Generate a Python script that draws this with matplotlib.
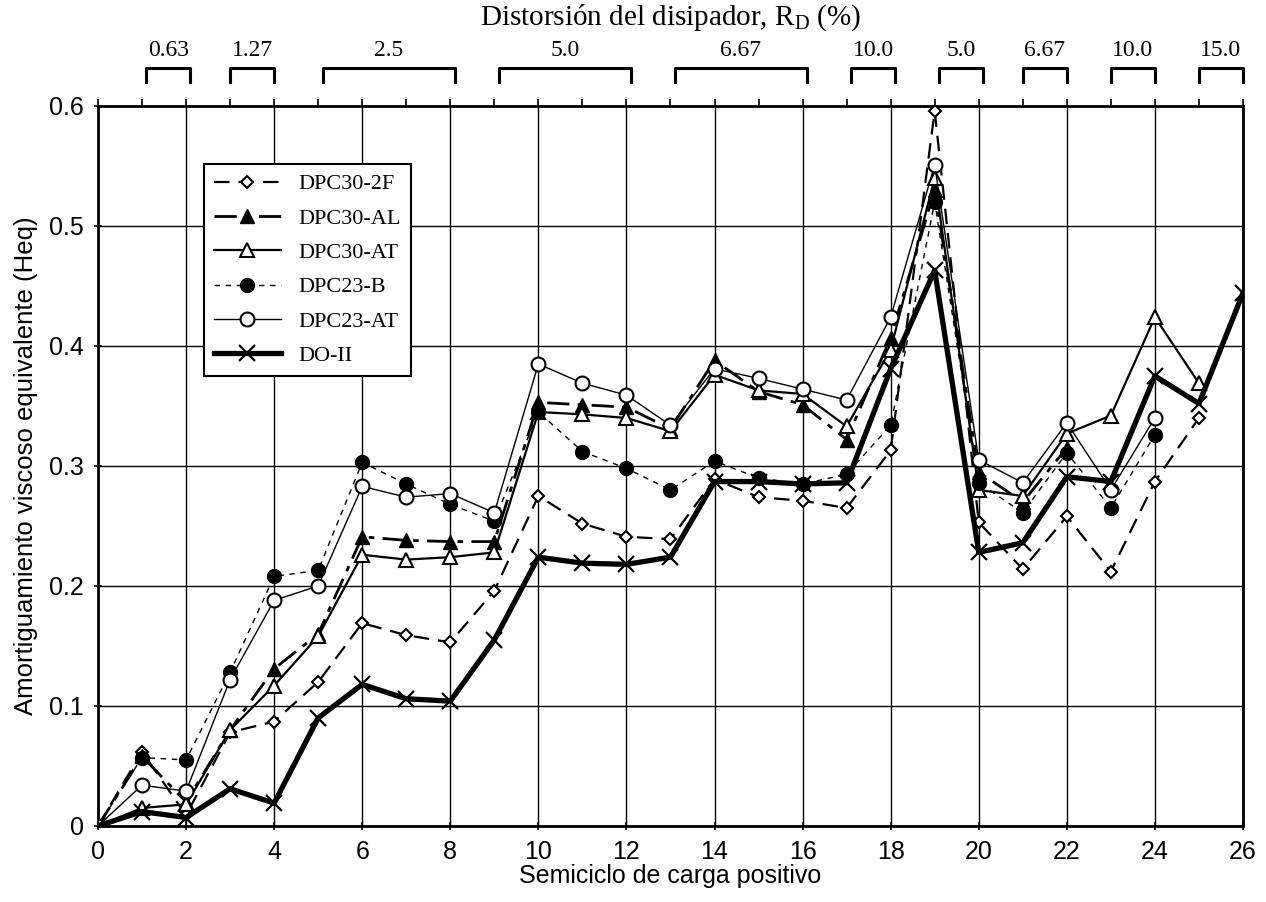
import numpy as np
import matplotlib
matplotlib.use('Agg')
import matplotlib.pyplot as plt
import matplotlib.transforms as mtransforms

# Data
x_2f = list(range(0, 26))
dpc30_2f = [0, 0.062, 0.009, 0.078, 0.087, 0.120, 0.169, 0.159, 0.153, 0.196, 0.275, 0.252, 0.241,
            0.239, 0.289, 0.274, 0.271, 0.265, 0.313, 0.596, 0.253, 0.214, 0.258, 0.212, 0.287, 0.340]

x_al = list(range(0, 23))
dpc30_al = [0, 0.058, 0.020, 0.080, 0.131, 0.160, 0.241, 0.238, 0.237, 0.237, 0.353, 0.351, 0.349,
            0.331, 0.388, 0.362, 0.351, 0.322, 0.407, 0.530, 0.295, 0.270, 0.315]

x_at = list(range(0, 26))
dpc30_at = [0, 0.015, 0.018, 0.080, 0.117, 0.158, 0.226, 0.222, 0.224, 0.228, 0.345, 0.343, 0.340,
            0.329, 0.376, 0.363, 0.360, 0.333, 0.397, 0.540, 0.280, 0.275, 0.327, 0.342, 0.424, 0.369]

x_b = list(range(0, 25))
dpc23_b = [0, 0.057, 0.055, 0.128, 0.208, 0.213, 0.303, 0.285, 0.268, 0.254, 0.345, 0.312, 0.298,
           0.280, 0.304, 0.290, 0.285, 0.293, 0.334, 0.520, 0.286, 0.261, 0.311, 0.265, 0.326]

x_at23 = list(range(0, 25))
dpc23_at = [0, 0.034, 0.029, 0.122, 0.188, 0.200, 0.283, 0.274, 0.277, 0.261, 0.385, 0.369, 0.359,
            0.334, 0.381, 0.373, 0.364, 0.355, 0.424, 0.551, 0.305, 0.286, 0.336, 0.280, 0.340]

x_do = list(range(0, 27))
do_ii = [0, 0.012, 0.007, 0.031, 0.019, 0.090, 0.118, 0.106, 0.104, 0.155, 0.224, 0.219, 0.218,
         0.224, 0.287, 0.287, 0.285, 0.286, 0.381, 0.463, 0.228, 0.236, 0.291, 0.287, 0.375, 0.352, 0.444]

# drift levels shown above the plot (label, start, end)
rd_labels = ['0.63', '1.27', '2.5', '5.0', '6.67', '10.0', '5.0', '6.67', '10.0', '15.0']
rd_start = [1.1, 3.0, 5.1, 9.1, 13.1, 17.1, 19.1, 21.0, 23.0, 25.0]
rd_end = [2.1, 4.0, 8.1, 12.1, 16.1, 18.1, 20.1, 22.0, 24.0, 26.0]

sans = 'Liberation Sans'
serif = 'Liberation Serif'

fig = plt.figure(figsize=(12.66, 9.02), dpi=100)
ax = fig.add_axes([0.0774, 0.0843, 0.9044, 0.7982])

ax.plot(x_2f, dpc30_2f, color='black', lw=1.6, dashes=(7, 4), marker='D', ms=6.5,
        mfc='white', mec='black', mew=1.5, label='DPC30-2F', zorder=3)
ax.plot(x_al, dpc30_al, color='black', lw=2.0, dashes=(8, 3, 2, 3), marker='^', ms=10,
        mfc='black', mec='black', label='DPC30-AL', zorder=3)
ax.plot(x_at, dpc30_at, color='black', lw=1.6, ls='-', marker='^', ms=10,
        mfc='white', mec='black', mew=1.5, label='DPC30-AT', zorder=3)
ax.plot(x_b, dpc23_b, color='black', lw=1.0, dashes=(4, 4), marker='o', ms=10,
        mfc='black', mec='black', label='DPC23-B', zorder=3)
ax.plot(x_at23, dpc23_at, color='black', lw=1.0, ls='-', marker='o', ms=10,
        mfc='white', mec='black', mew=1.5, label='DPC23-AT', zorder=3)
ax.plot(x_do, do_ii, color='black', lw=3.8, ls='-', marker='x', ms=11,
        mec='black', mew=1.6, label='DO-II', zorder=4)

ax.set_xlim(0, 26)
ax.set_ylim(0, 0.6)
ax.set_xticks(np.arange(0, 27, 2))
ax.set_yticks(np.arange(0, 0.61, 0.1))
ax.set_yticklabels(['0', '0.1', '0.2', '0.3', '0.4', '0.5', '0.6'])
ax.grid(True, color='black', lw=1.0)
ax.set_axisbelow(True)
for s in ax.spines.values():
    s.set_linewidth(2.0)
ax.tick_params(axis='both', direction='inout', length=6, width=1.2,
               labelsize=18, pad=7)
for lab in ax.get_xticklabels() + ax.get_yticklabels():
    lab.set_fontfamily(sans)

# small ticks on the top spine at every semicycle
ax_top = ax.twiny()
ax_top.set_xlim(0, 26)
ax_top.set_xticks(np.arange(0, 27, 1))
ax_top.set_xticklabels([])
ax_top.tick_params(axis='x', direction='out', length=5, width=1.2)

ax.set_xlabel('Semiciclo de carga positivo', fontsize=18, family=sans, labelpad=0)
ax.set_ylabel('Amortiguamiento viscoso equivalente (Heq)', fontsize=18.5, family=sans, labelpad=8)

# brackets with drift values
trans = mtransforms.blended_transform_factory(ax.transData, ax.transAxes)
for lab, x0, x1 in zip(rd_labels, rd_start, rd_end):
    ax.plot([x0, x0, x1, x1], [1.033, 1.053, 1.053, 1.033], color='black', lw=2.2,
            transform=trans, clip_on=False)
    ax.text((x0 + x1) / 2, 1.077, lab, transform=trans, ha='center', va='center',
            fontsize=17, family=serif)
ax.text(0.5, 1.122, 'Distorsión del disipador, R$_\\mathregular{D}$ (%)', transform=ax.transAxes,
        ha='center', va='center', fontsize=21, family=serif)

leg = ax.legend(loc='upper left', bbox_to_anchor=(0.083, 0.935), prop={'family': serif, 'size': 16},
                frameon=True, fancybox=False, edgecolor='black', framealpha=1,
                handlelength=3.0, labelspacing=0.62, borderpad=0.45)
leg.get_frame().set_linewidth(1.5)

fig.savefig('out.png', dpi=100)
